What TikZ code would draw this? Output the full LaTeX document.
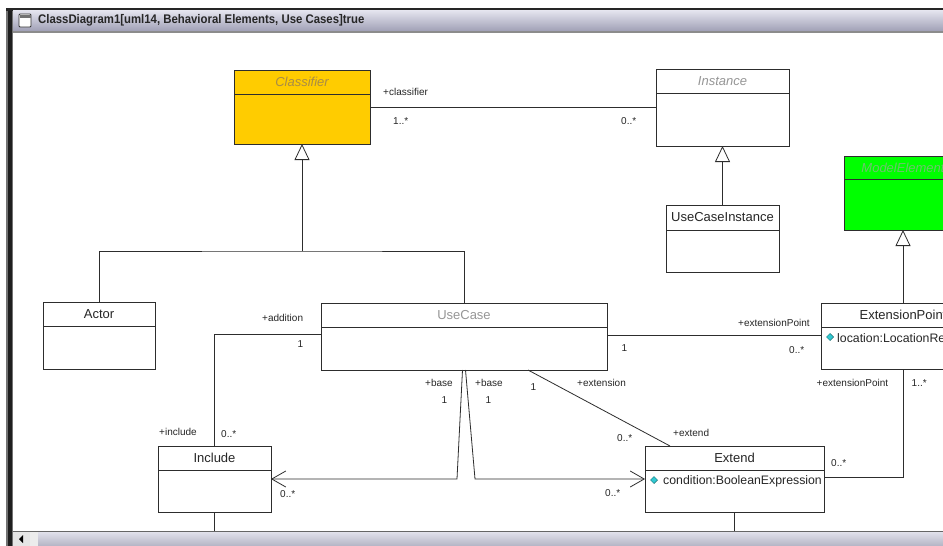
\documentclass[tikz,border=0pt]{standalone}
\usepackage{fontspec}
\setmainfont{Liberation Sans}
\usetikzlibrary{arrows.meta,calc}

\definecolor{classifieryellow}{RGB}{255,204,0}
\definecolor{classifiertext}{RGB}{168,140,70}
\definecolor{modelgreen}{RGB}{0,255,0}
\definecolor{modeltext}{RGB}{110,195,110}
\definecolor{linegray}{RGB}{45,45,45}
\definecolor{titlegray}{RGB}{150,150,150}
\definecolor{barlight}{RGB}{228,228,238}
\definecolor{bardark}{RGB}{160,160,182}
\definecolor{scrollgray}{RGB}{180,180,196}
\definecolor{gemcyan}{RGB}{50,200,210}

\begin{document}
\begin{tikzpicture}[x=1pt,y=-1pt,
    classbox/.style={draw=linegray, line width=0.9pt, fill=white, anchor=north west, inner sep=0pt, outer sep=0pt},
    classname/.style={font=\fontsize{13}{15}\selectfont, text=black!85, inner sep=0pt},
    abstractname/.style={font=\fontsize{13}{15}\selectfont\itshape, text=titlegray, inner sep=0pt},
    attr/.style={font=\fontsize{12.3}{14}\selectfont, text=black!85, anchor=west, inner sep=0pt},
    role/.style={font=\fontsize{10}{12}\selectfont, text=black!85, anchor=west, inner sep=0pt},
    assoc/.style={draw=linegray, line width=0.8pt},
    gen/.style={assoc, -{Triangle[open, length=16pt, width=15pt, line width=0.8pt]}},
    nav/.style={assoc, -{Straight Barb[length=14pt, width=16pt, line width=0.8pt]}},
    gem/.style={fill=gemcyan, draw=teal!60!black, line width=0.3pt, rotate=45, minimum size=5pt, inner sep=0pt}]

    \useasboundingbox (0,0) rectangle (943,546);
    \clip (0,0) rectangle (943,546);
    \fill[white] (0,0) rectangle (943,546);

    % Classes
    \node[classbox, fill=classifieryellow, minimum width=136pt, minimum height=74pt] (classifier) at (234,70) {};
    \draw[assoc] ($(classifier.north west)+(0,24)$) -- ($(classifier.north east)+(0,24)$);
    \node[abstractname, text=classifiertext] (classifier-name) at ($(classifier.north)+(0,12)$) {Classifier};

    \node[classbox, minimum width=133pt, minimum height=77pt] (instance) at (656,69) {};
    \draw[assoc] ($(instance.north west)+(0,24)$) -- ($(instance.north east)+(0,24)$);
    \node[abstractname] (instance-name) at ($(instance.north)+(0,12)$) {Instance};

    \node[classbox, minimum width=113pt, minimum height=67pt] (ucinstance) at (666,205) {};
    \draw[assoc] ($(ucinstance.north west)+(0,25)$) -- ($(ucinstance.north east)+(0,25)$);
    \node[classname] (ucinstance-name) at ($(ucinstance.north)+(0,12.5)$) {UseCaseInstance};

    \node[classbox, fill=modelgreen, minimum width=118pt, minimum height=74pt] (modelelement) at (844,156) {};
    \draw[assoc] ($(modelelement.north west)+(0,23)$) -- ($(modelelement.north east)+(0,23)$);
    \node[abstractname, text=modeltext] (modelelement-name) at ($(modelelement.north)+(0,11.5)$) {ModelElement};

    \node[classbox, minimum width=112pt, minimum height=67pt] (actor) at (43,302) {};
    \draw[assoc] ($(actor.north west)+(0,24)$) -- ($(actor.north east)+(0,24)$);
    \node[classname] (actor-name) at ($(actor.north)+(0,12)$) {Actor};

    \node[classbox, minimum width=286pt, minimum height=67pt] (usecase) at (321,303) {};
    \draw[assoc] ($(usecase.north west)+(0,24)$) -- ($(usecase.north east)+(0,24)$);
    \node[classname, text=titlegray] (usecase-name) at ($(usecase.north)+(0,12)$) {UseCase};

    \node[classbox, minimum width=164pt, minimum height=66pt] (extpoint) at (821,303) {};
    \draw[assoc] ($(extpoint.north west)+(0,24)$) -- ($(extpoint.north east)+(0,24)$);
    \node[classname] (extpoint-name) at ($(extpoint.north)+(0,12)$) {ExtensionPoint};
    \node[gem] (extpoint-gem) at (830,337) {};
    \node[attr] (extpoint-attr) at (837,338.5) {location:LocationReference};

    \node[classbox, minimum width=113pt, minimum height=66pt] (include) at (158,446) {};
    \draw[assoc] ($(include.north west)+(0,24)$) -- ($(include.north east)+(0,24)$);
    \node[classname] (include-name) at ($(include.north)+(0,12)$) {Include};

    \node[classbox, minimum width=179pt, minimum height=66pt] (extend) at (645,446) {};
    \draw[assoc] ($(extend.north west)+(0,24)$) -- ($(extend.north east)+(0,24)$);
    \node[classname] (extend-name) at ($(extend.north)+(0,12)$) {Extend};
    \node[gem] (extend-gem) at (654,480) {};
    \node[attr] (extend-attr) at (663,481.5) {condition:BooleanExpression};

    % Generalizations
    \coordinate (genjoin) at ($(classifier.south)+(0,107)$);
    \draw[assoc] (actor.north) |- (genjoin) -| (usecase.north);
    \draw[gen] (genjoin) -- (classifier.south);
    \draw[gen] (ucinstance.north) -- (instance.south);
    \draw[gen] (extpoint.north) -- (modelelement.south);

    % Associations
    \draw[assoc] (classifier.east) -- (classifier.east -| instance.west);
    \draw[assoc] ($(usecase.east)+(0,-1.5)$) -- ($(usecase.east -| extpoint.west)+(0,-1.5)$);
    \draw[assoc] ($(usecase.west)+(0,-2.5)$) -| (include.north);
    \draw[nav] ($(usecase.south)+(-1.5,0)$) -- ($(include.east)+(186,0)$) -- (include.east);
    \draw[nav] ($(usecase.south)+(1.5,0)$) -- ($(extend.west)+(-170,0)$) -- (extend.west);
    \draw[assoc] ($(usecase.south west)+(207,0)$) -- ($(extend.north west)+(25,0)$);
    \draw[assoc] ($(extend.east)+(0,-2)$) -| (extpoint.south);
    \coordinate (include-off) at (include.south |- 0,540);
    \coordinate (extend-off) at (extend.south |- 0,540);
    \draw[assoc] (include.south) -- (include-off);
    \draw[assoc] (extend.south) -- (extend-off);

    % Role names and multiplicities
    \node[role] (classifier-role) at (383,92) {+classifier};
    \node[role] (classifier-mult) at (393,121.5) {1..*};
    \node[role] (instance-mult) at (621,121.5) {0..*};
    \node[role] (addition-role) at (262,318) {+addition};
    \node[role] (addition-mult) at (297.5,344) {1};
    \node[role] (include-role) at (159,432) {+include};
    \node[role] (include-mult) at (221,434) {0..*};
    \node[role] (base-left-role) at (425,383) {+base};
    \node[role] (base-left-mult) at (441.5,400) {1};
    \node[role] (base-right-role) at (475,383) {+base};
    \node[role] (base-right-mult) at (485.5,400) {1};
    \node[role] (include-arrow-mult) at (280,494) {0..*};
    \node[role] (extend-arrow-mult) at (605,493.5) {0..*};
    \node[role] (extension-mult) at (530.5,387) {1};
    \node[role] (extension-role) at (577,383) {+extension};
    \node[role] (extend-mult) at (617,438) {0..*};
    \node[role] (extend-role) at (673,433) {+extend};
    \node[role] (usecase-ep-mult) at (621.5,348) {1};
    \node[role] (extpoint-role) at (738,322.5) {+extensionPoint};
    \node[role] (extpoint-mult) at (789,350) {0..*};
    \node[role] (extpoint-role-b) at (816.5,383) {+extensionPoint};
    \node[role] (extpoint-mult-b) at (911.5,383) {1..*};
    \node[role] (extend-ep-mult) at (831,463.5) {0..*};

    % Window frame
    \fill[black!55] (6,8) rectangle (13,546);
    \fill[black!88] (8,8) rectangle (11.5,546);
    \fill[black!85] (6,8) rectangle (943,10.5);
    \shade[top color=barlight, bottom color=bardark] (13,10.5) rectangle (943,31);
    \fill[black!45] (13,31) rectangle (943,33);
    \draw[black!80, fill=white, rounded corners=1pt, line width=0.8pt] (19,14) rectangle (31,27);
    \fill[black!55] (19.5,14.5) rectangle (30.5,17.5);
    \node[font=\fontsize{12.5}{14}\selectfont\bfseries, text=black!85, anchor=west, xscale=0.91, inner sep=0pt] (wintitle) at (38,20.5) {ClassDiagram1[uml14, Behavioral Elements, Use Cases]true};

    % Scroll bar
    \shade[top color=barlight, bottom color=scrollgray] (13,531) rectangle (943,546);
    \fill[black!60] (13,530.5) rectangle (943,532);
    \fill[black!10] (13,532) rectangle (30,546);
    \fill[black] (19,539) -- (23,535) -- (23,543) -- cycle;
    \fill[white!85!gray] (30,532) rectangle (38,546);
\end{tikzpicture}
\end{document}
